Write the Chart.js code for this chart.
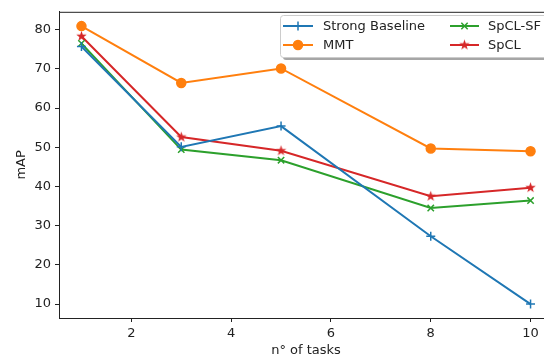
<!DOCTYPE html>
<html><head><meta charset="utf-8">
<script src="https://cdn.jsdelivr.net/npm/chart.js@4/dist/chart.umd.min.js"></script>
<style>html,body{margin:0;padding:0;overflow:hidden;background:#fff;width:544px;height:357px}</style>
</head><body>
<canvas id="c" width="560" height="357" style="display:block"></canvas>
<script>
const tasks = [1, 3, 5, 8, 10];
const strongBaseline = [75.7, 50.1, 55.4, 27.3, 10.0];
const mmt = [80.9, 66.4, 70.1, 49.7, 49.0];
const spclSF = [76.5, 49.4, 46.7, 34.5, 36.4];
const spcl = [78.3, 52.6, 49.1, 37.5, 39.7];
const xTicks = [2, 4, 6, 8, 10];
const yTicks = [10, 20, 30, 40, 50, 60, 70, 80];
const seriesNames = ['Strong Baseline', 'MMT', 'SpCL-SF', 'SpCL'];

const FONT = 'DejaVu Sans';
const TXT = '#222';

function starImg(color, r) {
  const c = document.createElement('canvas');
  const s = Math.ceil(r * 2 + 2);
  c.width = c.height = s;
  const g = c.getContext('2d');
  g.translate(s / 2, s / 2);
  g.beginPath();
  for (let i = 0; i < 10; i++) {
    const a = -Math.PI / 2 + i * Math.PI / 5;
    const rr = i % 2 ? r * 0.4 : r;
    g.lineTo(rr * Math.cos(a), rr * Math.sin(a));
  }
  g.closePath();
  g.fillStyle = color; g.fill();
  return c;
}
const star = starImg('#d62728', 5.5);

function pts(arr) { return tasks.map((t, i) => ({x: t, y: arr[i]})); }

const styles = [
  {color: '#1f77b4', pointStyle: 'cross', radius: 4.5},
  {color: '#ff7f0e', pointStyle: 'circle', radius: 4.5},
  {color: '#2ca02c', pointStyle: 'crossRot', radius: 4.5},
  {color: '#d62728', pointStyle: star, radius: 5.5},
];
const allData = [strongBaseline, mmt, spclSF, spcl];

const datasets = allData.map((d, i) => ({
  label: seriesNames[i],
  data: pts(d),
  borderColor: styles[i].color,
  backgroundColor: styles[i].color,
  borderWidth: 2,
  pointStyle: styles[i].pointStyle,
  pointRadius: styles[i].radius,
  pointBorderWidth: 1.5,
  pointBorderColor: styles[i].color,
  pointBackgroundColor: styles[i].color,
  tension: 0,
}));

const framePlugin = {
  id: 'frame',
  afterDraw(chart) {
    const {ctx, chartArea: a} = chart;
    ctx.save();
    ctx.strokeStyle = TXT; ctx.lineWidth = 1;
    ctx.beginPath();
    ctx.moveTo(a.left, a.top + 0.5); ctx.lineTo(a.right, a.top + 0.5);
    ctx.moveTo(a.right - 0.5, a.top); ctx.lineTo(a.right - 0.5, a.bottom);
    ctx.stroke();

    // legend
    const bx = 280, by = 15, bw = 267, bh = 42, r = 3;
    function rr(x, y, w, h) {
      ctx.beginPath();
      ctx.moveTo(x + r, y); ctx.lineTo(x + w - r, y); ctx.quadraticCurveTo(x + w, y, x + w, y + r);
      ctx.lineTo(x + w, y + h - r); ctx.quadraticCurveTo(x + w, y + h, x + w - r, y + h);
      ctx.lineTo(x + r, y + h); ctx.quadraticCurveTo(x, y + h, x, y + h - r);
      ctx.lineTo(x, y + r); ctx.quadraticCurveTo(x, y, x + r, y); ctx.closePath();
    }
    rr(bx + 3, by + 3, bw, bh);
    ctx.fillStyle = 'rgba(77,77,77,0.5)'; ctx.fill();
    rr(bx + 0.5, by + 0.5, bw, bh);
    ctx.fillStyle = '#fff'; ctx.fill();
    ctx.strokeStyle = '#cccccc'; ctx.stroke();

    const pos = [
      {x0: 283, x1: 313, tx: 323, y: 26},
      {x0: 283, x1: 313, tx: 323, y: 45},
      {x0: 450, x1: 479, tx: 488, y: 26},
      {x0: 450, x1: 479, tx: 488, y: 45},
    ];
    ctx.font = '13px "' + FONT + '"';
    ctx.textBaseline = 'middle';
    ctx.textAlign = 'left';
    chart.data.datasets.forEach((ds, i) => {
      const p = pos[i];
      ctx.strokeStyle = ds.borderColor; ctx.lineWidth = 2;
      ctx.beginPath(); ctx.moveTo(p.x0, p.y); ctx.lineTo(p.x1, p.y); ctx.stroke();
      ctx.fillStyle = ds.borderColor; ctx.lineWidth = 1.5;
      Chart.helpers.drawPoint(ctx, {pointStyle: ds.pointStyle, radius: ds.pointRadius, rotation: 0, borderWidth: 1.5}, (p.x0 + p.x1) / 2, p.y);
      ctx.fillStyle = TXT;
      ctx.fillText(ds.label, p.tx, p.y + 1);
    });
    ctx.restore();
  }
};

new Chart(document.getElementById('c'), {
  type: 'line',
  data: {datasets},
  plugins: [framePlugin],
  options: {
    responsive: false,
    devicePixelRatio: 1,
    animation: false,
    layout: {padding: {top: 9, right: 7, left: 0, bottom: 0}},
    plugins: {legend: {display: false}, tooltip: {enabled: false}},
    scales: {
      x: {
        type: 'linear', min: 0.55, max: 10.45,
        afterBuildTicks: s => { s.ticks = xTicks.map(v => ({value: v})); },
        afterFit: s => { s.height = 39; },
        ticks: {font: {family: FONT, size: 13}, color: TXT, padding: 4, maxRotation: 0},
        grid: {drawOnChartArea: false, drawTicks: true, tickLength: 4, color: TXT},
        border: {color: TXT, width: 1},
        title: {display: true, text: 'n° of tasks', font: {family: FONT, size: 13, lineHeight: 1}, color: TXT, padding: {top: 0, bottom: 0}},
      },
      y: {
        type: 'linear', min: 6.45, max: 84.55,
        afterBuildTicks: s => { s.ticks = yTicks.map(v => ({value: v})); },
        afterFit: s => { s.width = 59; },
        ticks: {font: {family: FONT, size: 13}, color: TXT, padding: 4},
        grid: {drawOnChartArea: false, drawTicks: true, tickLength: 4, color: TXT},
        border: {color: TXT, width: 1},
        title: {display: true, text: 'mAP', font: {family: FONT, size: 13, lineHeight: 1}, color: TXT, padding: {top: 15, bottom: 0}},
      }
    }
  }
});
</script>
</body></html>
